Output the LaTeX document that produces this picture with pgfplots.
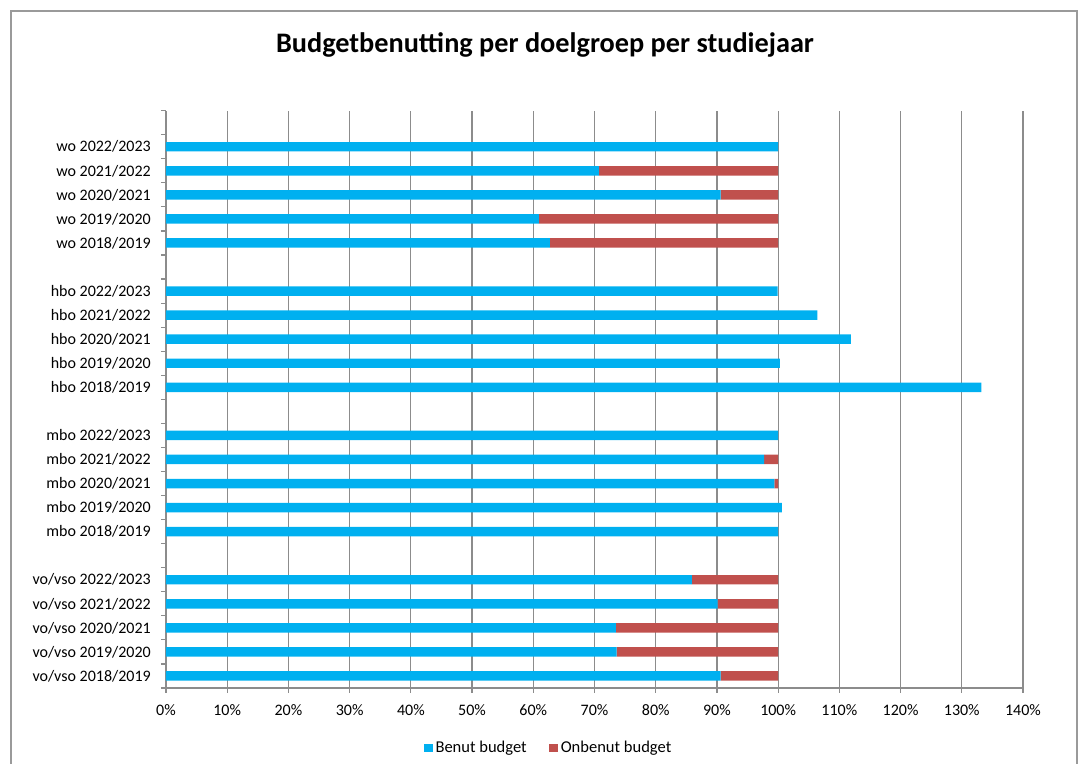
\documentclass[border=0pt]{standalone}
\usepackage{pgfplots}
\pgfplotsset{compat=1.18}
\usepackage{pgfplotstable}
\usepackage{fontspec}
\setmainfont{Carlito}

\definecolor{benut}{HTML}{00B0F0}
\definecolor{onbenut}{HTML}{C0504D}
\definecolor{gridgray}{HTML}{8C8C8C}
\definecolor{framegray}{HTML}{9A9A9A}

% slot centres: bottom (vo/vso 2018/2019) = 0.5, top (wo 2022/2023) = 22.5, empty slot on top
\pgfplotstableread{
y     benut   onbenut
0.5   90.6    9.4
1.5   73.6    26.4
2.5   73.5    26.5
3.5   90.1    9.9
4.5   85.9    14.1
6.5   100.0   0
7.5   100.6   0
8.5   99.4    0.6
9.5   97.7    2.3
10.5  100.0   0
12.5  133.2   0
13.5  100.3   0
14.5  111.9   0
15.5  106.4   0
16.5  99.9    0
18.5  62.7    37.3
19.5  60.9    39.1
20.5  90.6    9.4
21.5  70.7    29.3
22.5  100.0   0
}\budget

\begin{document}
\begin{tikzpicture}[x=0.75pt,y=0.75pt]
\useasboundingbox (0,0) rectangle (1082,764);
\draw[framegray, line width=0.9pt] (11,-5) -- (11,753) -- (1077,753) -- (1077,-5);

\node[font=\bfseries\fontsize{21.2}{25}\selectfont] at (545,719) {Budgetbenutting per doelgroep per studiejaar};

\begin{axis}[
    at={(124.5pt,57pt)},
    anchor=south west,
    scale only axis,
    width=642.75pt,
    height=433pt,
    xbar stacked,
    bar width=7.1pt,
    xmin=0, xmax=140,
    ymin=0, ymax=24,
    axis x line*=bottom,
    axis y line*=left,
    axis line style={gridgray, line width=0.9pt},
    tick align=outside,
    major tick length=3.75pt,
    tick style={gridgray, line width=0.9pt},
    xtick={0,10,...,140},
    xticklabels={0\%,10\%,20\%,30\%,40\%,50\%,60\%,70\%,80\%,90\%,100\%,110\%,120\%,130\%,140\%},
    xmajorgrids,
    grid style={gridgray, line width=0.9pt},
    ytick={0,...,24},
    yticklabels={vo/vso 2018/2019, vo/vso 2019/2020, vo/vso 2020/2021, vo/vso 2021/2022, vo/vso 2022/2023, {},
        mbo 2018/2019, mbo 2019/2020, mbo 2020/2021, mbo 2021/2022, mbo 2022/2023, {},
        hbo 2018/2019, hbo 2019/2020, hbo 2020/2021, hbo 2021/2022, hbo 2022/2023, {},
        wo 2018/2019, wo 2019/2020, wo 2020/2021, wo 2021/2022, wo 2022/2023, {}, {}},
    yticklabel style={yshift=9.02pt, xshift=-6.5pt, inner sep=1pt},
    xticklabel style={yshift=-7.5pt, inner sep=1pt},
    tick label style={font=\fontsize{12}{14}\selectfont},
    legend style={at={(0.447,-0.104)}, anchor=center, draw=none,
        legend columns=2, font=\fontsize{12.4}{14}\selectfont,
        /tikz/every even column/.append style={column sep=15pt}},
    legend image code/.code={\fill[#1] (0pt,-3.2pt) rectangle (6.5pt,3.3pt);},
]
\addplot[fill=benut, draw=none] table[x=benut, y=y] {\budget};
\addlegendentry{Benut budget}
\addplot[fill=onbenut, draw=none] table[x=onbenut, y=y] {\budget};
\addlegendentry{Onbenut budget}
\end{axis}
\end{tikzpicture}
\end{document}
